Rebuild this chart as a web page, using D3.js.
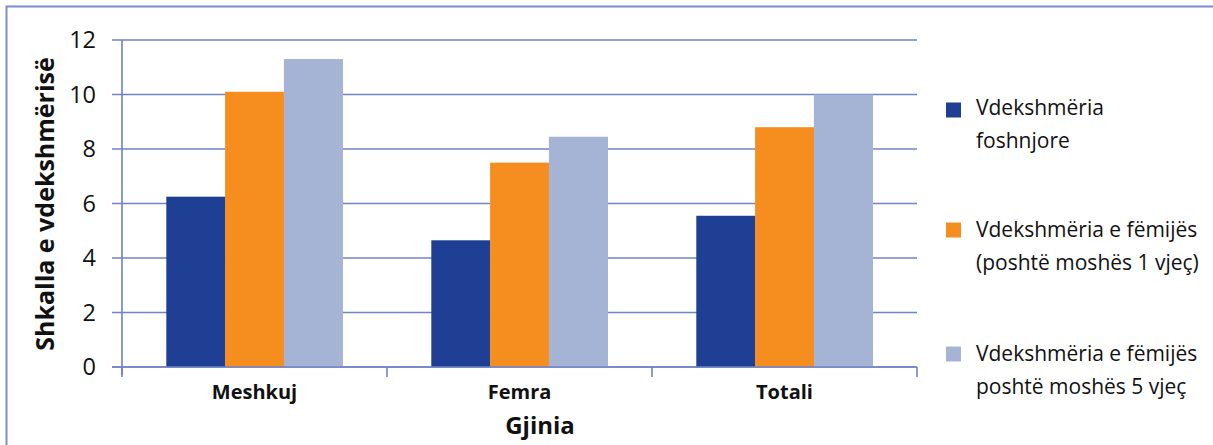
<!DOCTYPE html>
<html>
<head>
<meta charset="utf-8">
<script src="https://cdn.jsdelivr.net/npm/d3@7"></script>
<style>
  html, body { margin: 0; padding: 0; background: #fff; }
  svg { display: block; font-family: "Open Sans", "Lato", sans-serif; }
</style>
</head>
<body>
<svg id="chart" width="1213" height="445"></svg>
<script>
// Categories (gender) and mortality rates per series
const categories = ["Meshkuj", "Femra", "Totali"];
const seriesNames = [
  ["Vdekshmëria", "foshnjore"],
  ["Vdekshmëria e fëmijës", "(poshtë moshës 1 vjeç)"],
  ["Vdekshmëria e fëmijës", "poshtë moshës 5 vjeç"]
];
const infant = [6.25, 4.65, 5.55];
const under1 = [10.1, 7.5, 8.8];
const under5 = [11.3, 8.45, 10.0];
const yTicks = [0, 2, 4, 6, 8, 10, 12];
const colors = ["#1e3f93", "#f68e1f", "#a5b3d4"];

const series = [infant, under1, under5];
const svg = d3.select("#chart");
const gridColor = "#7083c4";

// Outer frame
svg.append("path")
  .attr("d", "M6.5,445 L6.5,6.5 L1213,6.5")
  .attr("fill", "none").attr("stroke", "#7c8fcb").attr("stroke-width", 2);

const plot = { left: 122, right: 917, top: 40, bottom: 367 };

const x = d3.scaleBand().domain(categories).range([plot.left, plot.right]).paddingInner(0).paddingOuter(0);
const y = d3.scaleLinear().domain([0, 12]).range([plot.bottom, plot.top]);

// Horizontal gridlines with small outside ticks
svg.append("g")
  .selectAll("line").data(yTicks).join("line")
  .attr("x1", plot.left - 10).attr("x2", plot.right)
  .attr("y1", d => y(d)).attr("y2", d => y(d))
  .attr("stroke", gridColor).attr("stroke-width", 1.6);

// Y tick labels
svg.append("g")
  .selectAll("text").data(yTicks).join("text")
  .attr("x", 96).attr("y", d => y(d))
  .attr("dy", "0.36em")
  .attr("text-anchor", "end")
  .attr("font-size", 23.5)
  .attr("fill", "#111")
  .text(d => d);

// Y axis line
svg.append("line")
  .attr("x1", plot.left).attr("x2", plot.left)
  .attr("y1", plot.top).attr("y2", plot.bottom + 8)
  .attr("stroke", gridColor).attr("stroke-width", 1.6);

// X category ticks
const bounds = categories.map(c => x(c)).concat([plot.right]);
svg.append("g")
  .selectAll("line").data(bounds).join("line")
  .attr("x1", d => d).attr("x2", d => d)
  .attr("y1", plot.bottom).attr("y2", plot.bottom + 10)
  .attr("stroke", gridColor).attr("stroke-width", 1.6);

// Bars: three per category, centred in each band
const barWidth = 58.8;
const groupPad = (x.bandwidth() - barWidth * 3) / 2;
series.forEach((vals, si) => {
  svg.append("g")
    .selectAll("rect").data(categories).join("rect")
    .attr("x", c => x(c) + groupPad + si * barWidth)
    .attr("width", barWidth + 0.3)
    .attr("y", (c, i) => y(vals[i]))
    .attr("height", (c, i) => y(0) - y(vals[i]))
    .attr("fill", colors[si]);
});

// Baseline redrawn over bars
svg.append("line")
  .attr("x1", plot.left - 10).attr("x2", plot.right)
  .attr("y1", plot.bottom).attr("y2", plot.bottom)
  .attr("stroke", gridColor).attr("stroke-width", 1.6);

// Category labels
svg.append("g")
  .selectAll("text").data(categories).join("text")
  .attr("x", c => x(c) + x.bandwidth() / 2)
  .attr("y", 392).attr("dy", "0.36em")
  .attr("text-anchor", "middle")
  .attr("font-size", 20).attr("font-weight", "bold")
  .attr("fill", "#111")
  .text(c => c);

// Axis titles
svg.append("text")
  .attr("x", 540).attr("y", 425).attr("dy", "0.36em")
  .attr("text-anchor", "middle")
  .attr("font-size", 24).attr("font-weight", "bold").attr("fill", "#111")
  .text("Gjinia");

svg.append("text")
  .attr("transform", "translate(45,204) rotate(-90)")
  .attr("dy", "0.36em")
  .attr("text-anchor", "middle")
  .attr("font-size", 25).attr("font-weight", "bold").attr("fill", "#111")
  .text("Shkalla e vdekshmërisë");

// Legend
const legendTop = [110, 230, 354];
const legendBase = [115, 237, 361];
seriesNames.forEach((lines, i) => {
  const g = svg.append("g");
  g.append("rect")
    .attr("x", 946).attr("y", legendTop[i] - 7.5)
    .attr("width", 15).attr("height", 15)
    .attr("fill", colors[i]);
  lines.forEach((t, li) => {
    g.append("text")
      .attr("x", 976).attr("y", legendBase[i] + li * 33)
      .attr("font-size", 21).attr("fill", "#111")
      .text(t);
  });
});
</script>
</body>
</html>
